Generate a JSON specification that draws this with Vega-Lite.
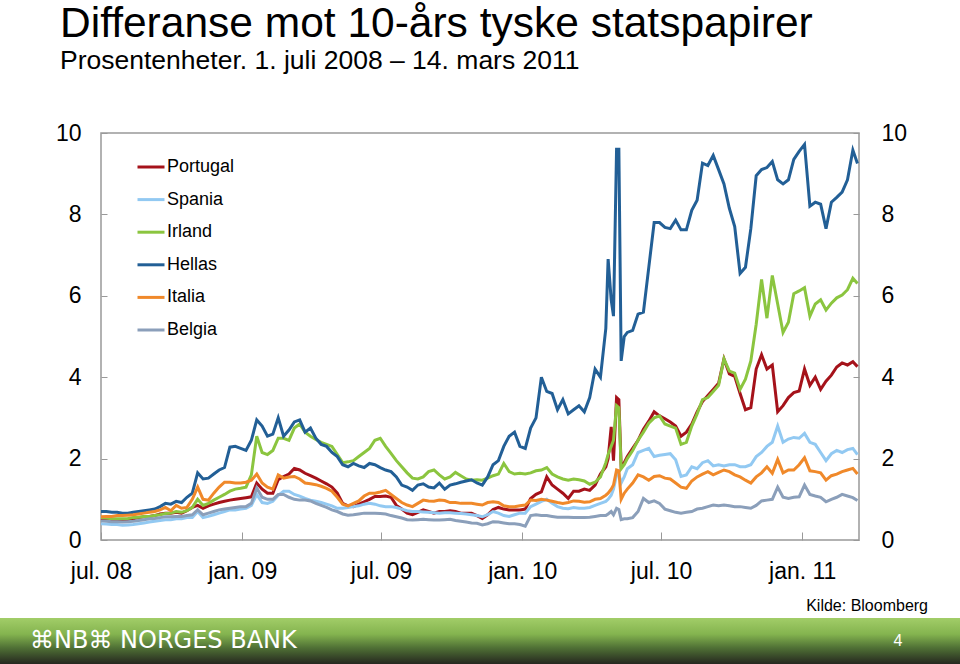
{
  "$schema": "https://vega.github.io/schema/vega-lite/v6.json",
  "background": "white",
  "padding": {"left": 0, "top": 3, "right": 0, "bottom": 0},
  "config": {"font": "Liberation Sans", "view": {"stroke": null}},
  "title": {
    "text": "Differanse mot 10-års tyske statspapirer",
    "subtitle": "Prosentenheter. 1. juli 2008 – 14. mars 2011",
    "anchor": "start", "dx": 60,
    "font": "Liberation Sans", "fontSize": 42.5, "fontWeight": "normal", "color": "#000000",
    "subtitleFont": "Liberation Sans", "subtitleFontSize": 26.5, "subtitleColor": "#000000", "subtitlePadding": 2,
    "offset": 47
  },
  "spacing": 78,
  "bounds": "flush",
  "center": true,
  "vconcat": [
    {
      "width": 758,
      "height": 407,
      "view": {"stroke": "#999999", "strokeWidth": 1.5},
      "data": {"values": [
        {"d":"2008-07-01","Portugal":0.53,"Spania":0.40,"Irland":0.55,"Hellas":0.70,"Italia":0.57,"Belgia":0.47},
        {"d":"2008-07-08","Portugal":0.52,"Spania":0.39,"Irland":0.54,"Hellas":0.70,"Italia":0.58,"Belgia":0.46},
        {"d":"2008-07-15","Portugal":0.50,"Spania":0.38,"Irland":0.52,"Hellas":0.68,"Italia":0.58,"Belgia":0.45},
        {"d":"2008-07-22","Portugal":0.49,"Spania":0.38,"Irland":0.52,"Hellas":0.68,"Italia":0.60,"Belgia":0.45},
        {"d":"2008-07-29","Portugal":0.49,"Spania":0.36,"Irland":0.52,"Hellas":0.66,"Italia":0.60,"Belgia":0.44},
        {"d":"2008-08-05","Portugal":0.50,"Spania":0.37,"Irland":0.53,"Hellas":0.66,"Italia":0.61,"Belgia":0.45},
        {"d":"2008-08-12","Portugal":0.52,"Spania":0.38,"Irland":0.55,"Hellas":0.68,"Italia":0.62,"Belgia":0.46},
        {"d":"2008-08-19","Portugal":0.55,"Spania":0.40,"Irland":0.56,"Hellas":0.70,"Italia":0.64,"Belgia":0.48},
        {"d":"2008-08-26","Portugal":0.57,"Spania":0.42,"Irland":0.58,"Hellas":0.72,"Italia":0.66,"Belgia":0.50},
        {"d":"2008-09-02","Portugal":0.58,"Spania":0.44,"Irland":0.58,"Hellas":0.74,"Italia":0.68,"Belgia":0.52},
        {"d":"2008-09-09","Portugal":0.60,"Spania":0.46,"Irland":0.60,"Hellas":0.76,"Italia":0.70,"Belgia":0.53},
        {"d":"2008-09-16","Portugal":0.64,"Spania":0.48,"Irland":0.62,"Hellas":0.82,"Italia":0.74,"Belgia":0.55},
        {"d":"2008-09-23","Portugal":0.66,"Spania":0.50,"Irland":0.65,"Hellas":0.90,"Italia":0.80,"Belgia":0.57},
        {"d":"2008-09-30","Portugal":0.66,"Spania":0.50,"Irland":0.66,"Hellas":0.88,"Italia":0.72,"Belgia":0.57},
        {"d":"2008-10-07","Portugal":0.68,"Spania":0.52,"Irland":0.70,"Hellas":0.95,"Italia":0.85,"Belgia":0.58},
        {"d":"2008-10-14","Portugal":0.66,"Spania":0.52,"Irland":0.68,"Hellas":0.92,"Italia":0.78,"Belgia":0.58},
        {"d":"2008-10-21","Portugal":0.72,"Spania":0.55,"Irland":0.72,"Hellas":1.05,"Italia":0.80,"Belgia":0.60},
        {"d":"2008-10-28","Portugal":0.80,"Spania":0.55,"Irland":0.80,"Hellas":1.15,"Italia":1.00,"Belgia":0.62},
        {"d":"2008-11-04","Portugal":0.85,"Spania":0.70,"Irland":1.00,"Hellas":1.65,"Italia":1.30,"Belgia":0.74},
        {"d":"2008-11-11","Portugal":0.78,"Spania":0.55,"Irland":0.85,"Hellas":1.50,"Italia":1.00,"Belgia":0.62},
        {"d":"2008-11-18","Portugal":0.84,"Spania":0.58,"Irland":0.90,"Hellas":1.52,"Italia":0.98,"Belgia":0.66},
        {"d":"2008-11-25","Portugal":0.88,"Spania":0.62,"Irland":0.98,"Hellas":1.62,"Italia":1.15,"Belgia":0.70},
        {"d":"2008-12-02","Portugal":0.92,"Spania":0.66,"Irland":1.05,"Hellas":1.72,"Italia":1.30,"Belgia":0.74},
        {"d":"2008-12-09","Portugal":0.95,"Spania":0.70,"Irland":1.12,"Hellas":1.78,"Italia":1.42,"Belgia":0.76},
        {"d":"2008-12-16","Portugal":0.98,"Spania":0.74,"Irland":1.20,"Hellas":2.28,"Italia":1.42,"Belgia":0.78},
        {"d":"2008-12-23","Portugal":1.00,"Spania":0.74,"Irland":1.25,"Hellas":2.30,"Italia":1.40,"Belgia":0.80},
        {"d":"2008-12-30","Portugal":1.02,"Spania":0.76,"Irland":1.27,"Hellas":2.25,"Italia":1.40,"Belgia":0.82},
        {"d":"2009-01-06","Portugal":1.04,"Spania":0.78,"Irland":1.30,"Hellas":2.20,"Italia":1.42,"Belgia":0.82},
        {"d":"2009-01-13","Portugal":1.06,"Spania":0.85,"Irland":1.60,"Hellas":2.45,"Italia":1.47,"Belgia":0.90},
        {"d":"2009-01-20","Portugal":1.40,"Spania":1.12,"Irland":2.55,"Hellas":2.95,"Italia":1.62,"Belgia":1.28},
        {"d":"2009-01-27","Portugal":1.25,"Spania":0.92,"Irland":2.15,"Hellas":2.80,"Italia":1.40,"Belgia":1.05},
        {"d":"2009-02-03","Portugal":1.15,"Spania":0.90,"Irland":2.10,"Hellas":2.55,"Italia":1.30,"Belgia":1.00},
        {"d":"2009-02-10","Portugal":1.15,"Spania":0.95,"Irland":2.20,"Hellas":2.60,"Italia":1.25,"Belgia":1.00},
        {"d":"2009-02-17","Portugal":1.48,"Spania":1.10,"Irland":2.50,"Hellas":3.00,"Italia":1.60,"Belgia":1.12},
        {"d":"2009-02-24","Portugal":1.56,"Spania":1.20,"Irland":2.50,"Hellas":2.55,"Italia":1.52,"Belgia":1.12},
        {"d":"2009-03-03","Portugal":1.62,"Spania":1.20,"Irland":2.45,"Hellas":2.70,"Italia":1.55,"Belgia":1.05},
        {"d":"2009-03-10","Portugal":1.76,"Spania":1.12,"Irland":2.75,"Hellas":2.90,"Italia":1.56,"Belgia":1.00},
        {"d":"2009-03-17","Portugal":1.72,"Spania":1.08,"Irland":2.85,"Hellas":2.95,"Italia":1.50,"Belgia":0.98},
        {"d":"2009-03-24","Portugal":1.64,"Spania":1.02,"Irland":2.65,"Hellas":2.65,"Italia":1.40,"Belgia":0.98},
        {"d":"2009-03-31","Portugal":1.58,"Spania":0.98,"Irland":2.55,"Hellas":2.75,"Italia":1.38,"Belgia":0.96},
        {"d":"2009-04-07","Portugal":1.52,"Spania":0.95,"Irland":2.47,"Hellas":2.50,"Italia":1.36,"Belgia":0.90},
        {"d":"2009-04-14","Portugal":1.45,"Spania":0.92,"Irland":2.40,"Hellas":2.35,"Italia":1.32,"Belgia":0.85},
        {"d":"2009-04-21","Portugal":1.38,"Spania":0.88,"Irland":2.35,"Hellas":2.30,"Italia":1.27,"Belgia":0.80},
        {"d":"2009-04-28","Portugal":1.30,"Spania":0.84,"Irland":2.30,"Hellas":2.15,"Italia":1.20,"Belgia":0.74},
        {"d":"2009-05-05","Portugal":1.15,"Spania":0.78,"Irland":2.10,"Hellas":2.05,"Italia":1.05,"Belgia":0.70},
        {"d":"2009-05-12","Portugal":0.90,"Spania":0.78,"Irland":1.90,"Hellas":1.85,"Italia":0.88,"Belgia":0.64},
        {"d":"2009-05-19","Portugal":0.84,"Spania":0.80,"Irland":1.92,"Hellas":1.80,"Italia":0.84,"Belgia":0.61},
        {"d":"2009-05-26","Portugal":0.82,"Spania":0.82,"Irland":1.95,"Hellas":1.88,"Italia":0.90,"Belgia":0.62},
        {"d":"2009-06-02","Portugal":0.88,"Spania":0.84,"Irland":2.05,"Hellas":1.82,"Italia":0.96,"Belgia":0.64},
        {"d":"2009-06-09","Portugal":0.94,"Spania":0.88,"Irland":2.15,"Hellas":1.78,"Italia":1.08,"Belgia":0.66},
        {"d":"2009-06-16","Portugal":1.00,"Spania":0.90,"Irland":2.25,"Hellas":1.88,"Italia":1.15,"Belgia":0.66},
        {"d":"2009-06-23","Portugal":1.07,"Spania":0.88,"Irland":2.45,"Hellas":1.85,"Italia":1.15,"Belgia":0.66},
        {"d":"2009-06-30","Portugal":1.07,"Spania":0.84,"Irland":2.50,"Hellas":1.78,"Italia":1.18,"Belgia":0.65},
        {"d":"2009-07-07","Portugal":1.08,"Spania":0.82,"Irland":2.30,"Hellas":1.72,"Italia":1.22,"Belgia":0.64},
        {"d":"2009-07-14","Portugal":1.05,"Spania":0.82,"Irland":2.13,"Hellas":1.68,"Italia":1.12,"Belgia":0.60},
        {"d":"2009-07-21","Portugal":0.85,"Spania":0.80,"Irland":1.95,"Hellas":1.55,"Italia":1.02,"Belgia":0.57},
        {"d":"2009-07-28","Portugal":0.76,"Spania":0.76,"Irland":1.80,"Hellas":1.35,"Italia":0.92,"Belgia":0.54},
        {"d":"2009-08-04","Portugal":0.66,"Spania":0.72,"Irland":1.65,"Hellas":1.30,"Italia":0.86,"Belgia":0.50},
        {"d":"2009-08-11","Portugal":0.62,"Spania":0.70,"Irland":1.52,"Hellas":1.22,"Italia":0.82,"Belgia":0.49},
        {"d":"2009-08-18","Portugal":0.68,"Spania":0.70,"Irland":1.50,"Hellas":1.35,"Italia":0.90,"Belgia":0.50},
        {"d":"2009-08-25","Portugal":0.74,"Spania":0.69,"Irland":1.55,"Hellas":1.38,"Italia":0.98,"Belgia":0.51},
        {"d":"2009-09-01","Portugal":0.70,"Spania":0.68,"Irland":1.68,"Hellas":1.30,"Italia":0.96,"Belgia":0.50},
        {"d":"2009-09-08","Portugal":0.66,"Spania":0.67,"Irland":1.72,"Hellas":1.28,"Italia":0.95,"Belgia":0.49},
        {"d":"2009-09-15","Portugal":0.70,"Spania":0.66,"Irland":1.60,"Hellas":1.40,"Italia":0.98,"Belgia":0.49},
        {"d":"2009-09-22","Portugal":0.70,"Spania":0.67,"Irland":1.50,"Hellas":1.25,"Italia":0.97,"Belgia":0.50},
        {"d":"2009-09-29","Portugal":0.72,"Spania":0.67,"Irland":1.55,"Hellas":1.35,"Italia":0.92,"Belgia":0.51},
        {"d":"2009-10-06","Portugal":0.70,"Spania":0.66,"Irland":1.66,"Hellas":1.38,"Italia":0.92,"Belgia":0.48},
        {"d":"2009-10-13","Portugal":0.66,"Spania":0.65,"Irland":1.58,"Hellas":1.42,"Italia":0.90,"Belgia":0.46},
        {"d":"2009-10-20","Portugal":0.66,"Spania":0.64,"Irland":1.50,"Hellas":1.45,"Italia":0.90,"Belgia":0.44},
        {"d":"2009-10-27","Portugal":0.66,"Spania":0.62,"Irland":1.47,"Hellas":1.48,"Italia":0.90,"Belgia":0.42},
        {"d":"2009-11-03","Portugal":0.60,"Spania":0.60,"Irland":1.48,"Hellas":1.40,"Italia":0.88,"Belgia":0.41},
        {"d":"2009-11-10","Portugal":0.53,"Spania":0.57,"Irland":1.47,"Hellas":1.35,"Italia":0.86,"Belgia":0.37},
        {"d":"2009-11-17","Portugal":0.62,"Spania":0.62,"Irland":1.52,"Hellas":1.55,"Italia":0.92,"Belgia":0.40},
        {"d":"2009-11-24","Portugal":0.75,"Spania":0.70,"Irland":1.58,"Hellas":1.85,"Italia":0.94,"Belgia":0.45},
        {"d":"2009-12-01","Portugal":0.80,"Spania":0.66,"Irland":1.62,"Hellas":1.95,"Italia":0.92,"Belgia":0.44},
        {"d":"2009-12-08","Portugal":0.76,"Spania":0.60,"Irland":1.88,"Hellas":2.30,"Italia":0.84,"Belgia":0.42},
        {"d":"2009-12-15","Portugal":0.74,"Spania":0.58,"Irland":1.68,"Hellas":2.55,"Italia":0.82,"Belgia":0.40},
        {"d":"2009-12-22","Portugal":0.74,"Spania":0.62,"Irland":1.62,"Hellas":2.65,"Italia":0.82,"Belgia":0.40},
        {"d":"2009-12-29","Portugal":0.74,"Spania":0.66,"Irland":1.64,"Hellas":2.30,"Italia":0.84,"Belgia":0.38},
        {"d":"2010-01-05","Portugal":0.76,"Spania":0.66,"Irland":1.62,"Hellas":2.25,"Italia":0.86,"Belgia":0.34},
        {"d":"2010-01-12","Portugal":1.02,"Spania":0.82,"Irland":1.65,"Hellas":2.75,"Italia":0.98,"Belgia":0.60},
        {"d":"2010-01-19","Portugal":1.12,"Spania":0.88,"Irland":1.70,"Hellas":3.00,"Italia":0.97,"Belgia":0.62},
        {"d":"2010-01-26","Portugal":1.18,"Spania":0.95,"Irland":1.72,"Hellas":4.00,"Italia":1.00,"Belgia":0.60},
        {"d":"2010-02-02","Portugal":1.55,"Spania":1.00,"Irland":1.78,"Hellas":3.65,"Italia":0.98,"Belgia":0.60},
        {"d":"2010-02-09","Portugal":1.35,"Spania":0.90,"Irland":1.62,"Hellas":3.60,"Italia":0.95,"Belgia":0.58},
        {"d":"2010-02-16","Portugal":1.25,"Spania":0.82,"Irland":1.55,"Hellas":3.20,"Italia":0.92,"Belgia":0.56},
        {"d":"2010-02-23","Portugal":1.15,"Spania":0.78,"Irland":1.50,"Hellas":3.45,"Italia":0.90,"Belgia":0.56},
        {"d":"2010-03-02","Portugal":1.02,"Spania":0.77,"Irland":1.47,"Hellas":3.10,"Italia":0.92,"Belgia":0.56},
        {"d":"2010-03-09","Portugal":1.20,"Spania":0.80,"Irland":1.50,"Hellas":3.20,"Italia":0.96,"Belgia":0.55},
        {"d":"2010-03-16","Portugal":1.20,"Spania":0.78,"Irland":1.48,"Hellas":3.30,"Italia":0.95,"Belgia":0.55},
        {"d":"2010-03-23","Portugal":1.25,"Spania":0.78,"Irland":1.45,"Hellas":3.15,"Italia":0.93,"Belgia":0.55},
        {"d":"2010-03-30","Portugal":1.22,"Spania":0.80,"Irland":1.37,"Hellas":3.50,"Italia":0.94,"Belgia":0.56},
        {"d":"2010-04-06","Portugal":1.35,"Spania":0.85,"Irland":1.42,"Hellas":4.20,"Italia":1.00,"Belgia":0.58},
        {"d":"2010-04-13","Portugal":1.62,"Spania":0.90,"Irland":1.55,"Hellas":4.00,"Italia":1.02,"Belgia":0.60},
        {"d":"2010-04-20","Portugal":1.80,"Spania":0.95,"Irland":1.90,"Hellas":5.20,"Italia":1.10,"Belgia":0.60},
        {"d":"2010-04-23","Portugal":2.00,"Spania":1.00,"Irland":2.10,"Hellas":6.90,"Italia":1.15,"Belgia":0.64},
        {"d":"2010-04-27","Portugal":2.78,"Spania":1.10,"Irland":2.30,"Hellas":5.90,"Italia":1.25,"Belgia":0.70},
        {"d":"2010-04-30","Portugal":1.95,"Spania":1.25,"Irland":2.45,"Hellas":5.50,"Italia":1.35,"Belgia":0.62},
        {"d":"2010-05-04","Portugal":3.50,"Spania":1.60,"Irland":3.30,"Hellas":9.60,"Italia":1.72,"Belgia":0.78},
        {"d":"2010-05-07","Portugal":3.45,"Spania":1.62,"Irland":3.25,"Hellas":9.60,"Italia":1.70,"Belgia":0.75},
        {"d":"2010-05-10","Portugal":1.80,"Spania":1.40,"Irland":1.75,"Hellas":4.40,"Italia":1.00,"Belgia":0.50},
        {"d":"2010-05-14","Portugal":1.90,"Spania":1.55,"Irland":1.85,"Hellas":5.00,"Italia":1.15,"Belgia":0.52},
        {"d":"2010-05-18","Portugal":2.05,"Spania":1.75,"Irland":2.00,"Hellas":5.10,"Italia":1.25,"Belgia":0.52},
        {"d":"2010-05-25","Portugal":2.25,"Spania":1.85,"Irland":2.20,"Hellas":5.15,"Italia":1.40,"Belgia":0.55},
        {"d":"2010-06-01","Portugal":2.45,"Spania":2.15,"Irland":2.45,"Hellas":5.55,"Italia":1.60,"Belgia":0.70},
        {"d":"2010-06-08","Portugal":2.72,"Spania":2.20,"Irland":2.65,"Hellas":5.60,"Italia":1.55,"Belgia":1.02},
        {"d":"2010-06-15","Portugal":2.92,"Spania":2.25,"Irland":2.87,"Hellas":6.70,"Italia":1.47,"Belgia":0.92},
        {"d":"2010-06-22","Portugal":3.15,"Spania":2.05,"Irland":3.00,"Hellas":7.80,"Italia":1.56,"Belgia":0.96},
        {"d":"2010-06-29","Portugal":3.05,"Spania":2.08,"Irland":3.05,"Hellas":7.80,"Italia":1.58,"Belgia":0.90},
        {"d":"2010-07-06","Portugal":2.98,"Spania":2.10,"Irland":2.85,"Hellas":7.68,"Italia":1.52,"Belgia":0.76},
        {"d":"2010-07-13","Portugal":2.90,"Spania":2.12,"Irland":2.80,"Hellas":7.65,"Italia":1.50,"Belgia":0.72},
        {"d":"2010-07-20","Portugal":2.80,"Spania":1.97,"Irland":2.75,"Hellas":7.86,"Italia":1.40,"Belgia":0.68},
        {"d":"2010-07-27","Portugal":2.55,"Spania":1.56,"Irland":2.35,"Hellas":7.62,"Italia":1.30,"Belgia":0.66},
        {"d":"2010-08-03","Portugal":2.65,"Spania":1.60,"Irland":2.40,"Hellas":7.62,"Italia":1.27,"Belgia":0.68},
        {"d":"2010-08-10","Portugal":2.85,"Spania":1.80,"Irland":2.80,"Hellas":8.10,"Italia":1.45,"Belgia":0.70},
        {"d":"2010-08-17","Portugal":3.15,"Spania":1.75,"Irland":3.10,"Hellas":8.35,"Italia":1.55,"Belgia":0.76},
        {"d":"2010-08-24","Portugal":3.40,"Spania":1.90,"Irland":3.45,"Hellas":9.26,"Italia":1.62,"Belgia":0.78},
        {"d":"2010-08-31","Portugal":3.55,"Spania":1.95,"Irland":3.50,"Hellas":9.20,"Italia":1.68,"Belgia":0.82},
        {"d":"2010-09-07","Portugal":3.70,"Spania":1.82,"Irland":3.65,"Hellas":9.45,"Italia":1.60,"Belgia":0.86},
        {"d":"2010-09-14","Portugal":3.85,"Spania":1.85,"Irland":3.80,"Hellas":9.10,"Italia":1.66,"Belgia":0.84},
        {"d":"2010-09-21","Portugal":4.45,"Spania":1.82,"Irland":4.45,"Hellas":8.75,"Italia":1.72,"Belgia":0.86},
        {"d":"2010-09-28","Portugal":4.08,"Spania":1.85,"Irland":4.15,"Hellas":8.15,"Italia":1.68,"Belgia":0.84},
        {"d":"2010-10-05","Portugal":4.02,"Spania":1.85,"Irland":4.10,"Hellas":7.70,"Italia":1.60,"Belgia":0.82},
        {"d":"2010-10-12","Portugal":3.60,"Spania":1.80,"Irland":3.70,"Hellas":6.55,"Italia":1.55,"Belgia":0.82},
        {"d":"2010-10-19","Portugal":3.20,"Spania":1.80,"Irland":3.95,"Hellas":6.70,"Italia":1.47,"Belgia":0.80},
        {"d":"2010-10-26","Portugal":3.25,"Spania":1.85,"Irland":4.40,"Hellas":7.65,"Italia":1.40,"Belgia":0.78},
        {"d":"2010-11-02","Portugal":4.20,"Spania":2.05,"Irland":5.30,"Hellas":8.95,"Italia":1.55,"Belgia":0.85},
        {"d":"2010-11-09","Portugal":4.55,"Spania":2.15,"Irland":6.40,"Hellas":9.10,"Italia":1.65,"Belgia":0.96},
        {"d":"2010-11-16","Portugal":4.20,"Spania":2.30,"Irland":5.45,"Hellas":9.15,"Italia":1.80,"Belgia":0.98},
        {"d":"2010-11-23","Portugal":4.30,"Spania":2.40,"Irland":6.50,"Hellas":9.30,"Italia":1.64,"Belgia":1.00},
        {"d":"2010-11-30","Portugal":3.15,"Spania":2.80,"Irland":5.80,"Hellas":8.85,"Italia":1.98,"Belgia":1.30},
        {"d":"2010-12-07","Portugal":3.30,"Spania":2.40,"Irland":5.10,"Hellas":8.75,"Italia":1.65,"Belgia":1.05},
        {"d":"2010-12-14","Portugal":3.50,"Spania":2.48,"Irland":5.35,"Hellas":8.85,"Italia":1.72,"Belgia":1.02},
        {"d":"2010-12-21","Portugal":3.62,"Spania":2.52,"Irland":6.05,"Hellas":9.35,"Italia":1.72,"Belgia":1.05},
        {"d":"2010-12-28","Portugal":3.66,"Spania":2.50,"Irland":6.12,"Hellas":9.55,"Italia":1.85,"Belgia":1.06},
        {"d":"2011-01-04","Portugal":4.20,"Spania":2.62,"Irland":6.20,"Hellas":9.72,"Italia":2.02,"Belgia":1.35},
        {"d":"2011-01-11","Portugal":3.80,"Spania":2.40,"Irland":5.50,"Hellas":8.20,"Italia":1.70,"Belgia":1.12},
        {"d":"2011-01-18","Portugal":4.00,"Spania":2.35,"Irland":5.80,"Hellas":8.30,"Italia":1.68,"Belgia":1.08},
        {"d":"2011-01-25","Portugal":3.70,"Spania":2.15,"Irland":5.90,"Hellas":8.25,"Italia":1.65,"Belgia":1.05},
        {"d":"2011-02-01","Portugal":3.90,"Spania":1.95,"Irland":5.65,"Hellas":7.65,"Italia":1.47,"Belgia":0.94},
        {"d":"2011-02-08","Portugal":4.05,"Spania":2.12,"Irland":5.82,"Hellas":8.30,"Italia":1.58,"Belgia":1.00},
        {"d":"2011-02-15","Portugal":4.25,"Spania":2.20,"Irland":5.95,"Hellas":8.42,"Italia":1.62,"Belgia":1.05},
        {"d":"2011-02-22","Portugal":4.35,"Spania":2.15,"Irland":6.02,"Hellas":8.55,"Italia":1.68,"Belgia":1.12},
        {"d":"2011-03-01","Portugal":4.30,"Spania":2.22,"Irland":6.15,"Hellas":8.85,"Italia":1.72,"Belgia":1.08},
        {"d":"2011-03-08","Portugal":4.38,"Spania":2.25,"Irland":6.43,"Hellas":9.58,"Italia":1.76,"Belgia":1.04},
        {"d":"2011-03-14","Portugal":4.26,"Spania":2.10,"Irland":6.30,"Hellas":9.25,"Italia":1.62,"Belgia":0.97}
      ]},
      "transform": [
        {"fold": ["Portugal", "Spania", "Irland", "Hellas", "Italia", "Belgia"], "as": ["land", "verdi"]}
      ],
      "encoding": {
        "x": {
          "field": "d", "type": "temporal",
          "scale": {"domain": [{"year": 2008, "month": 7, "date": 1}, {"year": 2011, "month": 3, "date": 16}]},
          "axis": {
            "title": null, "grid": false, "domain": false,
            "values": [
              {"year": 2008, "month": 7, "date": 1}, {"year": 2009, "month": 1, "date": 1},
              {"year": 2009, "month": 7, "date": 1}, {"year": 2010, "month": 1, "date": 1},
              {"year": 2010, "month": 7, "date": 1}, {"year": 2011, "month": 1, "date": 1}
            ],
            "labelExpr": "(month(datum.value) == 6 ? 'jul. ' : 'jan. ') + timeFormat(datum.value, '%y')",
            "tickSize": -8, "tickColor": "#999999", "tickWidth": 1,
            "labelFont": "Liberation Sans", "labelFontSize": 23, "labelColor": "#000000",
            "labelPadding": 28, "labelFlush": false, "labelOverlap": false
          }
        }
      },
      "layer": [
        {
          "mark": {"type": "line", "strokeWidth": 3, "interpolate": "linear"},
          "encoding": {
            "y": {
              "field": "verdi", "type": "quantitative",
              "scale": {"domain": [0, 10], "nice": false},
              "axis": {
                "orient": "left", "title": null, "grid": false, "domain": false,
                "values": [0, 2, 4, 6, 8, 10],
                "tickSize": -6, "tickColor": "#999999",
                "labelFont": "Liberation Sans", "labelFontSize": 23, "labelColor": "#000000",
                "labelPadding": 26
              }
            },
            "color": {
              "field": "land", "type": "nominal",
              "scale": {
                "domain": ["Portugal", "Spania", "Irland", "Hellas", "Italia", "Belgia"],
                "range": ["#a5121a", "#92c9f2", "#8bc53f", "#225f96", "#f0892a", "#8b9fba"]
              },
              "legend": {
                "orient": "none", "legendX": 136, "legendY": 19, "title": null,
                "symbolType": "stroke", "symbolSize": 729, "symbolStrokeWidth": 3,
                "labelFont": "Liberation Sans", "labelFontSize": 18, "labelColor": "#000000",
                "rowPadding": 8.6, "labelOffset": 1, "padding": 0
              }
            }
          }
        },
        {
          "mark": {"type": "line", "opacity": 0},
          "encoding": {
            "detail": {"field": "land", "type": "nominal"},
            "y": {
              "field": "verdi", "type": "quantitative",
              "scale": {"domain": [0, 10], "nice": false},
              "axis": {
                "orient": "right", "title": null, "grid": false, "domain": false,
                "values": [0, 2, 4, 6, 8, 10],
                "tickSize": -6, "tickColor": "#999999",
                "labelFont": "Liberation Sans", "labelFontSize": 23, "labelColor": "#000000",
                "labelPadding": 28
              }
            }
          }
        }
      ],
      "resolve": {"scale": {"y": "shared"}, "axis": {"y": "independent"}}
    },
    {
      "width": 960,
      "height": 46,
      "view": {"stroke": null},
      "data": {"values": [{"bank": "NORGES BANK", "side": "4"}]},
      "title": {
        "text": "Kilde: Bloomberg", "orient": "top", "anchor": "end",
        "font": "Liberation Sans", "fontSize": 16, "fontWeight": "normal", "color": "#000000",
        "dx": -32, "offset": 4
      },
      "layer": [
        {
          "mark": {
            "type": "rect",
            "fill": {
              "gradient": "linear", "x1": 0, "y1": 0, "x2": 0, "y2": 1,
              "stops": [
                {"offset": 0, "color": "#a2cd68"},
                {"offset": 0.35, "color": "#84b44f"},
                {"offset": 0.65, "color": "#4f7035"},
                {"offset": 1, "color": "#25271f"}
              ]
            }
          },
          "encoding": {}
        },
        {
          "mark": {"type": "text", "align": "left", "baseline": "middle", "dx": -450, "font": "DejaVu Sans", "fontSize": 24, "color": "#ffffff"},
          "encoding": {"text": {"value": "⌘NB⌘  NORGES BANK"}}
        },
        {
          "mark": {"type": "text", "align": "center", "baseline": "middle", "dx": 418, "font": "Liberation Sans", "fontSize": 16, "color": "#ffffff"},
          "encoding": {"text": {"field": "side", "type": "nominal"}}
        }
      ]
    }
  ]
}
